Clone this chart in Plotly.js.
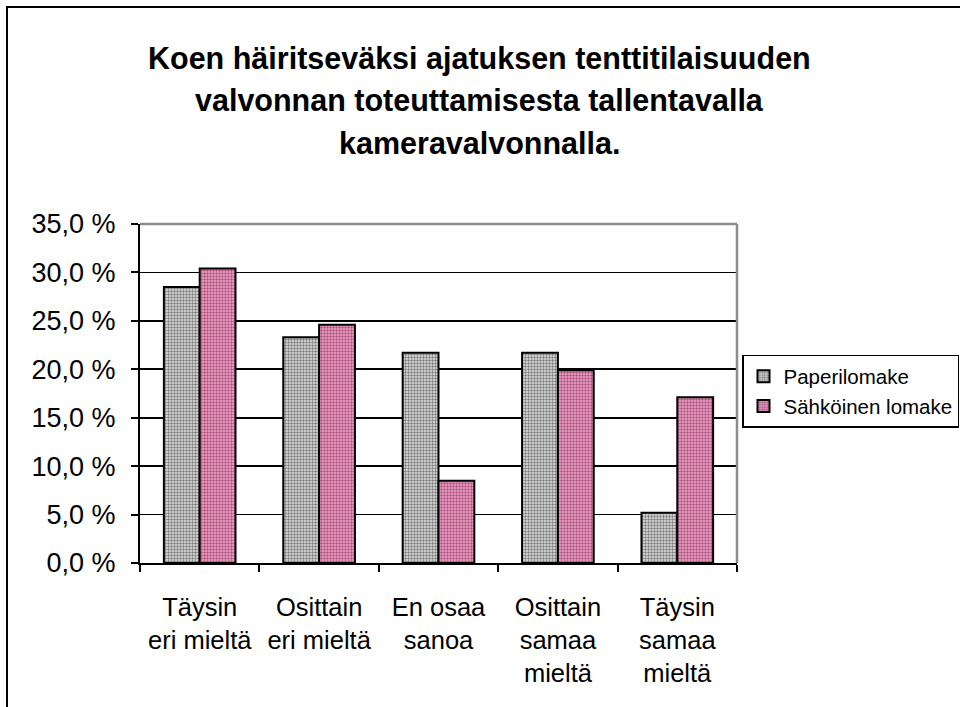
<!DOCTYPE html>
<html>
<head>
<meta charset="utf-8">
<script src="https://cdn.plot.ly/plotly-3.0.1.min.js"></script>
<style>
  html, body { margin: 0; padding: 0; background: #fff; overflow: hidden; }
  #chart { width: 960px; height: 707px; }
  #frame { position: absolute; left: 6px; top: 6px; width: 1000px; height: 1000px;
           border: 2px solid #000; pointer-events: none; box-sizing: border-box; }
</style>
</head>
<body>
<div id="chart"></div>
<div id="frame"></div>
<script>
const categories = [
  "Täysin<br>eri mieltä",
  "Osittain<br>eri mieltä",
  "En osaa<br>sanoa",
  "Osittain<br>samaa<br>mieltä",
  "Täysin<br>samaa<br>mieltä"
];
const seriesNames = ["Paperilomake", "Sähköinen lomake"];
const paperValues = [28.5, 23.3, 21.7, 21.7, 5.2];
const electronicValues = [30.4, 24.6, 8.5, 19.9, 17.1];
const titleLines = [
  "Koen häiritseväksi ajatuksen tenttitilaisuuden",
  "valvonnan toteuttamisesta tallentavalla",
  "kameravalvonnalla."
];

const FONT = "Arial, 'Liberation Sans', sans-serif";

const traces = [
  {
    type: "bar", name: seriesNames[0], x: categories, y: paperValues,
    marker: {
      color: "#c8c8c8",
      line: { color: "#000", width: 2 },
      pattern: { shape: ".", bgcolor: "#e4e4e4", fgcolor: "#7c7c7c", size: 3, solidity: 0.5 }
    },
    hoverinfo: "y"
  },
  {
    type: "bar", name: seriesNames[1], x: categories, y: electronicValues,
    marker: {
      color: "#d98cb3",
      line: { color: "#000", width: 2 },
      pattern: { shape: ".", bgcolor: "#efaccd", fgcolor: "#b0507f", size: 3, solidity: 0.5 }
    },
    hoverinfo: "y"
  }
];

const layout = {
  width: 960, height: 707,
  margin: { l: 140, r: 223, t: 224, b: 144, autoexpand: false },
  paper_bgcolor: "#fff", plot_bgcolor: "#fff",
  font: { family: FONT, color: "#000", size: 24 },
  separators: ",.",
  barmode: "group",
  bargap: 0.4,
  bargroupgap: 0,
  showlegend: true,
  legend: {
    x: (959 - 140) / 597, xanchor: "right", y: 0.506, yanchor: "middle",
    bordercolor: "#000", borderwidth: 1.5, bgcolor: "#fff",
    font: { family: FONT, size: 20.5, color: "#000" },
    itemwidth: 30
  },
  xaxis: {
    type: "category",
    showgrid: false, zeroline: false,
    showline: true, linecolor: "#000", linewidth: 2,
    ticks: "outside", ticklen: 7, tickwidth: 2, tickcolor: "#000",
    tickson: "boundaries",
    ticklabelstandoff: 20,
    tickfont: { family: FONT, size: 25.5, color: "#000" }
  },
  yaxis: {
    range: [0, 35], dtick: 5, tick0: 0,
    tickformat: ".1f", ticksuffix: " %",
    showgrid: true, gridcolor: "#000", gridwidth: 1.8,
    zeroline: false,
    showline: true, linecolor: "#000", linewidth: 2,
    ticks: "outside", ticklen: 7, tickwidth: 2, tickcolor: "#000",
    ticklabelstandoff: 10,
    tickfont: { family: FONT, size: 27, color: "#000" }
  },
  shapes: [
    { type: "line", xref: "paper", yref: "paper", x0: 0, x1: 1, y0: 1, y1: 1,
      line: { color: "#8c8c8c", width: 2.5 }, layer: "above" },
    { type: "line", xref: "paper", yref: "paper", x0: 1, x1: 1, y0: 0, y1: 1,
      line: { color: "#8c8c8c", width: 2.5 }, layer: "above" }
  ],
  annotations: titleLines.map((t, i) => ({
    text: "<b>" + t + "</b>",
    xref: "paper", yref: "paper",
    x: (480 - 140) / 597, xanchor: "center",
    y: (563 - [58, 100, 143][i]) / 339, yanchor: "middle",
    showarrow: false,
    font: { family: FONT, size: 30.5, color: "#000" }
  }))
};

Plotly.newPlot("chart", traces, layout, { displayModeBar: false, staticPlot: true });
</script>
</body>
</html>
